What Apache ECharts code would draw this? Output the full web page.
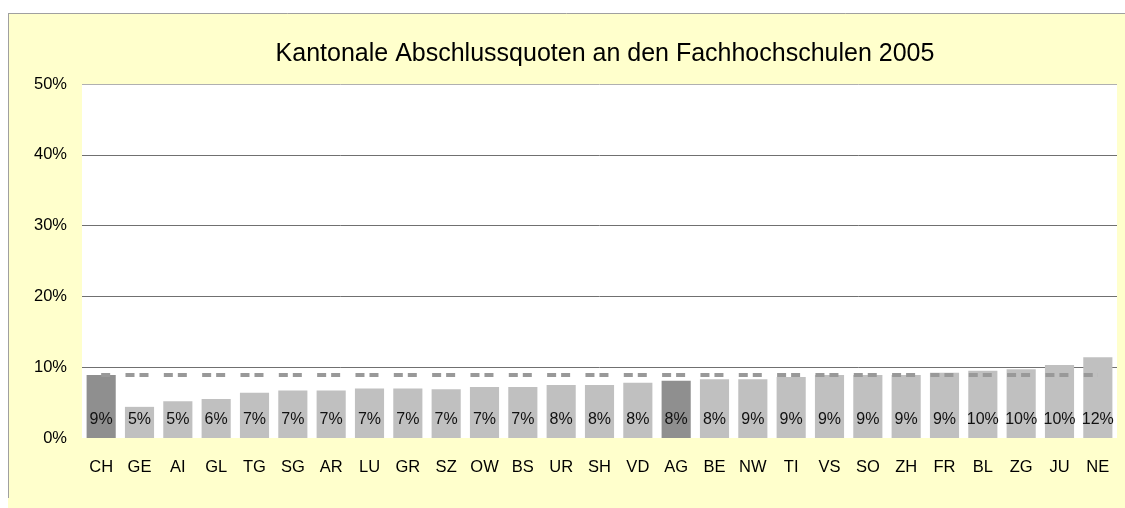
<!DOCTYPE html>
<html>
<head>
<meta charset="utf-8">
<script src="https://cdn.jsdelivr.net/npm/echarts@6/dist/echarts.min.js"></script>
<style>
html,body{margin:0;padding:0;background:#fff;}
#chart{width:1125px;height:508px;}
</style>
</head>
<body>
<div id="chart"></div>
<script>
const categories = ['CH','GE','AI','GL','TG','SG','AR','LU','GR','SZ','OW','BS','UR','SH','VD','AG','BE','NW','TI','VS','SO','ZH','FR','BL','ZG','JU','NE'];
const quotes = [8.9,4.4,5.2,5.5,6.4,6.7,6.7,7.0,7.0,6.9,7.2,7.2,7.5,7.5,7.8,8.1,8.3,8.3,8.6,8.9,8.9,8.9,9.2,9.5,9.7,10.3,11.4];
const quoteLabels = ['9%','5%','5%','6%','7%','7%','7%','7%','7%','7%','7%','7%','8%','8%','8%','8%','8%','9%','9%','9%','9%','9%','9%','10%','10%','10%','12%'];
const chAverage = [8.9,8.9,8.9,8.9,8.9,8.9,8.9,8.9,8.9,8.9,8.9,8.9,8.9,8.9,8.9,8.9,8.9,8.9,8.9,8.9,8.9,8.9,8.9,8.9,8.9,8.9,8.9];
const highlighted = ['CH','AG'];
const yTicks = [0,10,20,30,40,50];

const FONT = 'Arial, "Liberation Sans", sans-serif';
const chart = echarts.init(document.getElementById('chart'), null, {renderer:'canvas'});
chart.setOption({
  animation: false,
  backgroundColor: '#ffffff',
  graphic: [
    {type:'rect', silent:true, z:-10, shape:{x:8, y:13, width:1117, height:495}, style:{fill:'#FFFFCC'}},
    {type:'line', silent:true, z:-9, shape:{x1:8.5, y1:13, x2:8.5, y2:498}, style:{stroke:'#a0a0a0', lineWidth:1}},
    {type:'line', silent:true, z:-9, shape:{x1:8, y1:13.5, x2:1125, y2:13.5}, style:{stroke:'#a0a0a0', lineWidth:1}}
  ],
  title: {
    text: 'Kantonale Abschlussquoten an den Fachhochschulen 2005',
    left: 600, textAlign: 'center', top: 37,
    textStyle: {fontFamily: FONT, fontSize: 25, fontWeight: 'normal', color: '#000'}
  },
  grid: {left: 82, right: 8, top: 84, bottom: 70, show: true, backgroundColor: '#ffffff', borderWidth: 0},
  xAxis: {
    type: 'category', data: categories,
    axisLine: {show: false}, axisTick: {show: false},
    axisLabel: {fontFamily: FONT, fontSize: 16.5, color: '#000', margin: 21, interval: 0}
  },
  yAxis: {
    type: 'value', min: yTicks[0], max: yTicks[yTicks.length-1], interval: 10,
    axisLine: {show: false}, axisTick: {show: false},
    axisLabel: {fontFamily: FONT, fontSize: 16.5, color: '#000', margin: 15, formatter: '{value}%'},
    splitLine: {lineStyle: {color: ['rgba(0,0,0,0)','#707070','#707070','#707070','#707070','#b0b0b0'], width: 1}}
  },
  series: [
    {
      type: 'bar', barCategoryGap: '24%',
      data: quotes.map((v,i) => ({value: v, itemStyle: {color: highlighted.includes(categories[i]) ? '#8f8f8f' : '#c0c0c0'}})),
      label: {
        show: true, position: 'insideBottom', distance: 10,
        fontFamily: FONT, fontSize: 16, color: '#111',
        formatter: p => quoteLabels[p.dataIndex]
      },
      z: 2
    },
    {
      type: 'line', data: chAverage, symbol: 'none', z: 5,
      lineStyle: {color: '#999999', width: 4, type: [9, 15.33, 9, 5], cap: 'butt'}
    }
  ]
});
</script>
</body>
</html>
